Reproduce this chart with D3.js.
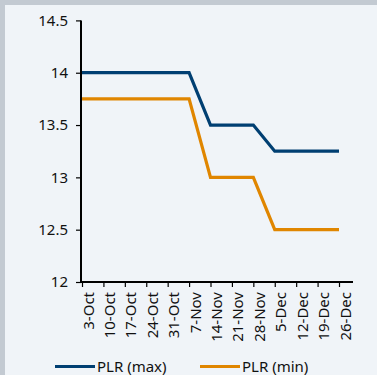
<!DOCTYPE html>
<html>
<head>
<meta charset="utf-8">
<script src="https://cdn.jsdelivr.net/npm/d3@7"></script>
<style>
  html, body { margin: 0; padding: 0; background: #c3cad2; }
  svg { display: block; font-family: "Noto Sans", "Open Sans", sans-serif; }
</style>
</head>
<body>
<svg id="chart" width="377" height="375"></svg>
<script>
// Weekly prime lending rate bands (%)
const weeks = ["3-Oct", "10-Oct", "17-Oct", "24-Oct", "31-Oct", "7-Nov", "14-Nov",
               "21-Nov", "28-Nov", "5-Dec", "12-Dec", "19-Dec", "26-Dec"];
const plrMax = [14, 14, 14, 14, 14, 14, 13.5, 13.5, 13.5, 13.25, 13.25, 13.25, 13.25];
const plrMin = [13.75, 13.75, 13.75, 13.75, 13.75, 13.75, 13, 13, 13, 12.5, 12.5, 12.5, 12.5];
const yTicks = [12, 12.5, 13, 13.5, 14, 14.5];
const seriesNames = ["PLR (max)", "PLR (min)"];
const seriesColors = ["#003f72", "#e08600"];

const svg = d3.select("#chart");

// panel background with grey frame on top and left
svg.append("rect").attr("x", 5).attr("y", 5).attr("width", 372).attr("height", 370)
  .attr("fill", "#f0f4f8");

const axisLeft = 81, axisBottom = 282, axisTop = 20.4, axisRight = 353;

const x = d3.scalePoint().domain(weeks).range([82, 339]);
const y = d3.scaleLinear().domain([12, 14.5]).range([axisBottom, axisTop]);

// y axis
const yAxis = svg.append("g").attr("transform", `translate(${axisLeft},0)`)
  .call(d3.axisLeft(y).tickValues(yTicks).tickSize(5).tickPadding(8)
    .tickFormat(d => d3.format("")(d)));
yAxis.select(".domain").attr("stroke", "#000").attr("stroke-width", 2)
  .attr("d", `M0,${axisTop}V${axisBottom}`);
yAxis.selectAll(".tick line").attr("stroke", "#000").attr("stroke-width", 1.2);
yAxis.selectAll(".tick text").attr("font-size", 15).attr("fill", "#111")
  .attr("font-family", "Noto Sans, sans-serif");

// x axis
const xAxis = svg.append("g").attr("transform", `translate(0,${axisBottom})`)
  .call(d3.axisBottom(x).tickSize(5).tickSizeOuter(0));
xAxis.select(".domain").attr("stroke", "#000").attr("stroke-width", 2)
  .attr("d", `M${axisLeft},0H${axisRight}`);
xAxis.selectAll(".tick line").attr("stroke", "#000").attr("stroke-width", 1.2);
xAxis.selectAll(".tick text")
  .attr("font-size", 15).attr("fill", "#111")
  .attr("font-family", "Noto Sans, sans-serif")
  .attr("text-anchor", "end")
  .attr("transform", "rotate(-90)")
  .attr("x", -10).attr("y", 0).attr("dy", "0")
  .attr("dx", 0)
  .each(function () { d3.select(this).attr("transform", "translate(11,0) rotate(-90)"); });

// series lines
const line = d3.line().x((d, i) => x(weeks[i])).y(d => y(d));
[plrMax, plrMin].forEach((vals, s) => {
  svg.append("path").datum(vals)
    .attr("fill", "none")
    .attr("stroke", seriesColors[s])
    .attr("stroke-width", 3.2)
    .attr("stroke-linejoin", "miter")
    .attr("d", line);
});

// legend
const legendX = [55, 200];
seriesNames.forEach((name, s) => {
  const g = svg.append("g").attr("transform", `translate(${legendX[s]},366.5)`);
  g.append("line").attr("x1", 0).attr("x2", 40).attr("y1", 0).attr("y2", 0)
    .attr("stroke", seriesColors[s]).attr("stroke-width", 3);
  g.append("text").attr("x", 42).attr("y", 0).attr("dy", "0.35em")
    .attr("font-size", 15).attr("fill", "#111").text(name);
});
</script>
</body>
</html>
